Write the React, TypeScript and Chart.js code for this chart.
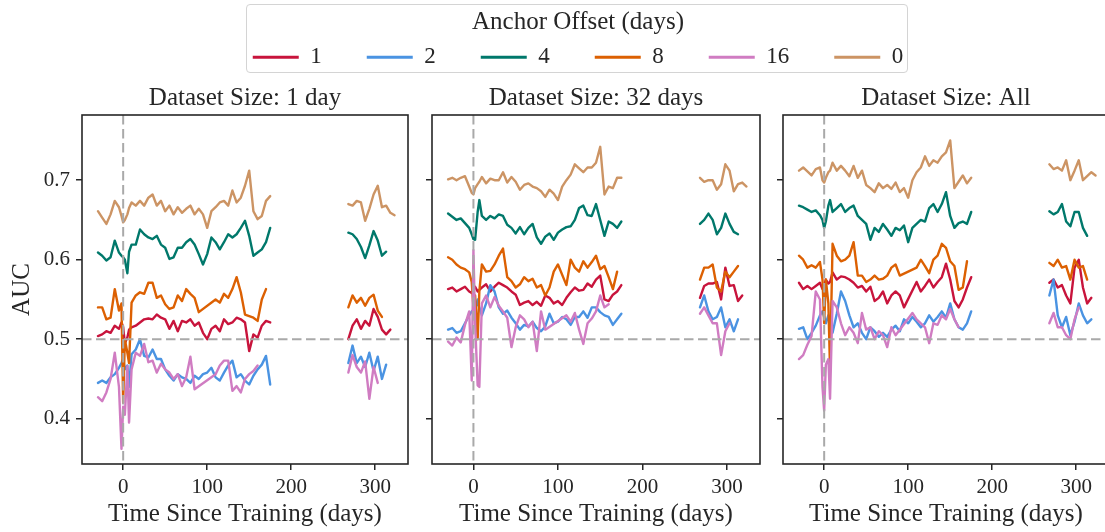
import { useEffect, useRef } from 'react';
import { Chart, registerables } from 'chart.js';

Chart.register(...registerables);

const FONT = '"Liberation Serif", "Times New Roman", serif';
const INK = '#262626';

// Legend entries (anchor offset in days) and their colours
const offsetLabels = ['1', '2', '4', '8', '16', '0'];
const offsetColors = ['#c8143c', '#4a93e2', '#00786b', '#dc6002', '#d07cc2', '#cc9464'];

const panelTitles = ['Dataset Size: 1 day', 'Dataset Size: 32 days', 'Dataset Size: All'];
const xTickValues = [0, 100, 200, 300];
const yTickValues = [0.4, 0.5, 0.6, 0.7];

// Days since training for every sample (two evaluation windows)
const days = [
  -30, -25, -20, -15, -10, -5, -2, 0, 2, 5, 7, 10, 15, 20, 25, 30, 35, 40, 45, 50, 55, 60, 65, 70, 75,
  80, 85, 90, 95, 100, 105, 110, 115, 120, 125, 130, 135, 140, 145, 150, 155, 160, 165, 170, 175,
  268, 273, 278, 283, 288, 293, 298, 303, 308, 313, 318, 323,
];

// ---- Dataset size: 1 day ----
const oneDay1 = [
  0.504, 0.506, 0.51, 0.508, 0.517, 0.513, 0.521, 0.515, 0.495, 0.502, 0.512, 0.515, 0.517, 0.521, 0.525,
  0.526, 0.525, 0.531, 0.527, 0.525, 0.513, 0.523, 0.51, 0.523, 0.521, 0.525, 0.517, 0.521, 0.508, 0.5,
  0.513, 0.517, 0.51, 0.525, 0.519, 0.521, 0.527, 0.525, 0.521, 0.485, 0.506, 0.502, 0.517, 0.523, 0.521,
  0.5, 0.517, 0.525, 0.513, 0.523, 0.517, 0.538, 0.528, 0.512, 0.506, 0.512, null,
];
const oneDay2 = [
  0.445, 0.448, 0.445, 0.452, 0.456, 0.464, 0.47, 0.475, 0.462, 0.467, 0.44, 0.481, 0.487, 0.5, 0.479,
  0.477, 0.487, 0.475, 0.475, 0.462, 0.454, 0.448, 0.456, 0.452, 0.45, 0.445, 0.454, 0.45, 0.456, 0.458,
  0.464, 0.452, 0.448, 0.458, 0.467, 0.473, 0.452, 0.456, 0.448, 0.443, 0.454, 0.462, 0.468, 0.479, 0.443,
  0.47, 0.492, 0.47, 0.478, 0.465, 0.483, 0.46, 0.478, 0.45, 0.468, null, null,
];
const oneDay4 = [
  0.609, 0.605, 0.599, 0.603, 0.624, 0.609, 0.605, 0.603, 0.6, 0.583, 0.61, 0.619, 0.619, 0.638, 0.632,
  0.628, 0.626, 0.63, 0.619, 0.615, 0.601, 0.603, 0.615, 0.615, 0.622, 0.626, 0.619, 0.607, 0.594, 0.607,
  0.628, 0.622, 0.613, 0.622, 0.632, 0.628, 0.632, 0.64, 0.649, 0.63, 0.605, 0.609, 0.613, 0.622, 0.64,
  0.634, 0.632, 0.626, 0.616, 0.602, 0.618, 0.636, 0.624, 0.605, 0.61, null, null,
];
const oneDay8 = [
  0.54, 0.54, 0.525, 0.527, 0.563, 0.536, 0.545, 0.42, 0.5, 0.483, 0.47, 0.546, 0.555, 0.559, 0.557,
  0.571, 0.571, 0.552, 0.555, 0.544, 0.538, 0.54, 0.555, 0.548, 0.563, 0.557, 0.552, 0.534, null, null,
  null, 0.55, 0.546, 0.557, 0.552, 0.563, 0.578, 0.559, 0.531, 0.529, 0.527, 0.523, 0.55, 0.563, null,
  0.54, 0.555, 0.546, 0.552, 0.542, 0.552, 0.556, 0.536, 0.528, null, null, null,
];
const oneDay16 = [
  0.427, 0.422, 0.433, 0.45, 0.483, 0.44, 0.362, 0.415, 0.405, 0.466, 0.395, 0.462, 0.483, 0.479, 0.494,
  0.471, 0.473, 0.458, 0.469, 0.462, 0.458, 0.45, 0.456, 0.441, 0.452, 0.478, 0.437, null, null, null,
  null, 0.456, 0.467, 0.473, 0.473, 0.435, 0.441, 0.433, 0.45, 0.456, 0.46, 0.467, null, null, null,
  0.458, 0.48, 0.465, 0.458, 0.472, 0.425, 0.465, 0.445, null, null, null, null,
];
const oneDay0 = [
  0.661, 0.653, 0.645, 0.657, 0.674, 0.666, 0.655, 0.647, 0.65, 0.657, 0.665, 0.672, 0.668, 0.674, 0.668,
  0.678, 0.682, 0.668, 0.674, 0.661, 0.668, 0.657, 0.666, 0.659, 0.664, 0.668, 0.657, 0.664, 0.657, 0.64,
  0.661, 0.666, 0.672, 0.674, 0.668, 0.687, 0.672, 0.678, 0.693, 0.712, 0.661, 0.651, 0.655, 0.674, 0.68,
  0.67, 0.668, 0.674, 0.672, 0.649, 0.664, 0.682, 0.693, 0.666, 0.668, 0.659, 0.656,
];

// ---- Dataset size: 32 days ----
const thirtyTwoDays1 = [
  0.563, 0.565, 0.56, 0.563, 0.566, 0.56, 0.558, 0.565, 0.566, 0.56, 0.562, 0.565, 0.569, 0.56, 0.566,
  0.571, 0.568, 0.565, 0.56, 0.556, 0.543, 0.546, 0.548, 0.543, 0.547, 0.542, 0.555, 0.552, 0.545, 0.548,
  0.543, 0.552, 0.559, 0.565, 0.561, 0.562, 0.57, 0.566, 0.575, 0.58, 0.55, 0.548, 0.556, 0.56, 0.568,
  0.552, 0.567, 0.57, 0.57, 0.572, 0.55, 0.59, 0.567, 0.568, 0.548, 0.555, null,
];
const thirtyTwoDays2 = [
  0.512, 0.514, 0.508, 0.51, 0.52, 0.53, 0.535, 0.537, 0.535, 0.55, 0.54, 0.53, 0.545, 0.568, 0.56,
  0.54, 0.532, 0.536, 0.527, 0.52, 0.512, 0.518, 0.516, 0.522, 0.514, 0.51, 0.516, 0.532, 0.52, 0.522,
  0.528, 0.525, 0.518, 0.528, 0.528, 0.535, 0.527, 0.54, 0.54, 0.534, 0.53, 0.528, 0.518, 0.525, 0.532,
  0.54, 0.555, 0.535, 0.525, 0.528, 0.54, 0.515, 0.525, 0.51, 0.525, null, null,
];
const thirtyTwoDays4 = [
  0.658, 0.654, 0.65, 0.652, 0.646, 0.64, 0.632, 0.626, 0.625, 0.66, 0.675, 0.655, 0.65, 0.655, 0.652,
  0.657, 0.655, 0.644, 0.64, 0.633, 0.641, 0.632, 0.64, 0.645, 0.628, 0.62, 0.629, 0.633, 0.625, 0.634,
  0.638, 0.641, 0.642, 0.65, 0.665, 0.668, 0.656, 0.655, 0.67, 0.65, 0.63, 0.648, 0.645, 0.64, 0.648,
  0.645, 0.65, 0.658, 0.65, 0.632, 0.64, 0.658, 0.645, 0.635, 0.632, null, null,
];
const thirtyTwoDays8 = [
  0.603, 0.6, 0.594, 0.59, 0.588, 0.584, 0.572, 0.54, 0.555, 0.5, 0.56, 0.594, 0.585, 0.586, 0.594,
  0.605, 0.614, 0.578, 0.573, 0.565, 0.569, 0.578, 0.573, 0.576, 0.565, 0.568, 0.555, 0.565, 0.585, 0.594,
  null, 0.568, 0.6, 0.59, 0.585, 0.598, 0.59, 0.597, 0.605, 0.588, 0.592, 0.578, 0.563, 0.585, null,
  0.575, 0.59, 0.59, 0.594, 0.565, 0.56, 0.585, 0.578, 0.585, 0.592, null, null,
];
const thirtyTwoDays16 = [
  0.497, 0.492, 0.502, 0.496, 0.518, 0.535, 0.448, 0.612, 0.52, 0.442, 0.44, 0.545, 0.555, 0.54, 0.553,
  0.542, 0.535, 0.527, 0.49, 0.515, 0.53, 0.525, 0.515, 0.522, 0.485, 0.535, 0.512, null, null, null,
  null, 0.53, 0.522, 0.533, 0.512, 0.494, 0.52, 0.526, 0.535, 0.555, 0.54, 0.544, null, null, null,
  0.532, 0.54, 0.53, 0.52, 0.52, 0.48, 0.51, 0.52, null, null, null, null,
];
const thirtyTwoDays0 = [
  0.701, 0.703, 0.7, 0.703, 0.705, 0.692, 0.684, 0.682, 0.69, 0.695, 0.698, 0.704, 0.696, 0.702, 0.7,
  0.7, 0.71, 0.697, 0.704, 0.698, 0.688, 0.694, 0.696, 0.692, 0.69, 0.686, 0.679, 0.688, 0.683, 0.675,
  0.692, 0.7, 0.707, 0.72, 0.715, 0.71, 0.716, 0.716, 0.722, 0.742, 0.682, 0.692, 0.69, 0.703, 0.703,
  0.703, 0.698, 0.7, 0.7, 0.688, 0.695, 0.72, 0.712, 0.686, 0.695, 0.697, 0.692,
];

// ---- Dataset size: All ----
const allData1 = [
  0.571, 0.563, 0.567, 0.563, 0.567, 0.571, 0.563, 0.567, 0.575, 0.57, 0.572, 0.584, 0.575, 0.579, 0.578,
  0.575, 0.571, 0.565, 0.567, 0.56, 0.566, 0.548, 0.552, 0.56, 0.545, 0.555, 0.56, 0.555, 0.54, null,
  null, 0.572, 0.56, 0.567, 0.575, 0.565, 0.572, 0.578, 0.595, 0.575, 0.548, 0.54, 0.55, 0.565, 0.578,
  0.571, 0.575, 0.565, 0.568, 0.555, 0.545, 0.59, 0.6, 0.565, 0.545, 0.552, null,
];
const allData2 = [
  0.513, 0.515, 0.5, 0.508, 0.517, 0.53, 0.535, 0.528, 0.52, 0.53, 0.52, 0.508, 0.532, 0.56, 0.548,
  0.53, 0.515, 0.52, 0.508, 0.5, 0.515, 0.51, 0.503, 0.508, 0.503, 0.512, 0.517, 0.51, 0.525, 0.52,
  0.528, 0.522, 0.515, 0.52, 0.53, 0.522, 0.528, 0.535, 0.527, 0.545, 0.525, 0.515, 0.512, 0.52, 0.535,
  0.555, 0.575, 0.53, 0.515, 0.528, 0.505, 0.522, 0.545, 0.53, 0.52, 0.525, null,
];
const allData4 = [
  0.668, 0.666, 0.663, 0.66, 0.662, 0.656, 0.65, 0.64, 0.648, 0.668, 0.675, 0.66, 0.665, 0.67, 0.66,
  0.665, 0.668, 0.655, 0.65, 0.645, 0.625, 0.64, 0.635, 0.645, 0.638, 0.63, 0.64, 0.637, 0.643, 0.622,
  0.64, 0.645, 0.65, 0.648, 0.665, 0.67, 0.66, 0.67, 0.685, 0.655, 0.64, 0.646, 0.648, 0.645, 0.66,
  0.661, 0.657, 0.66, 0.67, 0.648, 0.642, 0.66, 0.66, 0.64, 0.63, null, null,
];
const allData8 = [
  0.605, 0.6, 0.59, 0.593, 0.59, 0.597, 0.575, 0.52, 0.575, 0.545, 0.462, 0.62, 0.605, 0.598, 0.6,
  0.605, 0.622, 0.58, 0.58, 0.572, 0.575, 0.58, 0.575, 0.576, 0.58, 0.59, 0.594, 0.58, null, null,
  null, 0.59, 0.6, 0.592, 0.583, 0.6, 0.605, 0.62, 0.615, 0.598, 0.592, 0.562, 0.565, 0.598, null,
  0.596, 0.592, 0.6, 0.59, 0.592, 0.575, 0.6, 0.59, 0.592, 0.575, null, null,
];
const allData16 = [
  0.475, 0.48, 0.493, 0.504, 0.56, 0.55, 0.44, 0.41, 0.468, 0.475, 0.425, 0.548, 0.54, 0.52, 0.505,
  0.515, 0.508, 0.495, 0.533, 0.512, 0.515, 0.5, 0.51, 0.505, 0.49, 0.515, 0.505, null, null, null,
  0.533, 0.525, 0.52, 0.515, 0.495, 0.52, 0.518, 0.53, 0.525, 0.538, 0.525, 0.515, null, null, null,
  0.52, 0.533, 0.515, 0.515, 0.505, 0.5, 0.525, 0.54, null, null, null, null,
];
const allData0 = [
  0.712, 0.716, 0.711, 0.706, 0.714, 0.716, 0.7, 0.697, 0.703, 0.71, 0.712, 0.722, 0.712, 0.718, 0.712,
  0.705, 0.718, 0.703, 0.712, 0.694, 0.69, 0.685, 0.696, 0.69, 0.694, 0.689, 0.697, 0.685, 0.69, 0.678,
  0.7, 0.71, 0.716, 0.73, 0.718, 0.725, 0.722, 0.73, 0.735, 0.75, 0.69, 0.698, 0.706, 0.696, 0.703,
  0.72, 0.714, 0.716, 0.712, 0.725, 0.7, 0.712, 0.725, 0.7, 0.705, 0.71, 0.706,
];

const panelSeries = [
  [oneDay1, oneDay2, oneDay4, oneDay8, oneDay16, oneDay0],
  [thirtyTwoDays1, thirtyTwoDays2, thirtyTwoDays4, thirtyTwoDays8, thirtyTwoDays16, thirtyTwoDays0],
  [allData1, allData2, allData4, allData8, allData16, allData0],
];

const X_MIN = -49;
const X_MAX = 339;
const Y_MIN = 0.343;
const Y_MAX = 0.782;

// Missing days inside a window are bridged; the long pause between windows breaks the line.
function toPoints(values: (number | null)[]) {
  const pts: { x: number; y: number | null }[] = [];
  let prev: number | null = null;
  days.forEach((d, i) => {
    const v = values[i];
    if (v === null || v === undefined) return;
    if (prev !== null && d - prev > 60) pts.push({ x: (prev + d) / 2, y: null });
    pts.push({ x: d, y: v });
    prev = d;
  });
  return pts;
}

// Axes box plus the dashed guides at AUC 0.5 and day 0
const framePlugin = {
  id: 'frameAndGuides',
  afterDatasetsDraw(chart: any) {
    const { ctx, chartArea, scales } = chart;
    const { left, top, right, bottom } = chartArea;
    ctx.save();
    ctx.strokeStyle = '#a9a9a9';
    ctx.lineWidth = 2;
    ctx.setLineDash([9.5, 4.5]);
    const yMid = scales.y.getPixelForValue(0.5);
    ctx.beginPath();
    ctx.moveTo(left, yMid);
    ctx.lineTo(right, yMid);
    ctx.stroke();
    const xZero = scales.x.getPixelForValue(0);
    ctx.beginPath();
    ctx.moveTo(xZero, top);
    ctx.lineTo(xZero, bottom);
    ctx.stroke();
    ctx.setLineDash([]);
    ctx.strokeStyle = INK;
    ctx.lineWidth = 1.6;
    ctx.strokeRect(left, top, right - left, bottom - top);
    ctx.restore();
  },
};

const PANEL_TOP = 78;
const PANEL_H = 532 - PANEL_TOP;

type PanelProps = { index: number; left: number; width: number; axisWidth: number };

function Panel({ index, left, width, axisWidth }: PanelProps) {
  const ref = useRef<HTMLCanvasElement>(null);
  useEffect(() => {
    const showY = index === 0;
    const chart = new Chart(ref.current as HTMLCanvasElement, {
      type: 'line',
      data: {
        datasets: panelSeries[index].map((vals, i) => ({
          label: offsetLabels[i],
          data: toPoints(vals),
          borderColor: offsetColors[i],
          backgroundColor: offsetColors[i],
          borderWidth: 2.4,
          pointRadius: 0,
          tension: 0,
          spanGaps: false,
          borderJoinStyle: 'round',
          borderCapStyle: 'round',
          order: offsetLabels.length - i,
        })),
      },
      options: {
        animation: false,
        responsive: false,
        layout: { padding: { left: 0, right: 12, top: 0, bottom: 0 } },
        plugins: {
          legend: { display: false },
          tooltip: { enabled: false },
          title: {
            display: true,
            text: panelTitles[index],
            fullSize: false,
            color: INK,
            font: { family: FONT, size: 25, weight: 'normal' },
            padding: { top: 5, bottom: 2 },
          },
        },
        scales: {
          x: {
            type: 'linear',
            min: X_MIN,
            max: X_MAX,
            afterBuildTicks: (s: any) => {
              s.ticks = xTickValues.map((v) => ({ value: v }));
            },
            afterFit: (s: any) => {
              s.height = 68;
            },
            ticks: {
              color: INK,
              padding: 4.4,
              maxRotation: 0,
              font: { family: FONT, size: 21 },
              callback: (v: any) => String(v),
            },
            grid: { display: true, drawOnChartArea: false, drawTicks: true, tickLength: 6, color: INK, lineWidth: 1.5 },
            border: { display: false },
            title: {
              display: true,
              text: 'Time Since Training (days)',
              color: INK,
              font: { family: FONT, size: 25 },
              padding: { top: 0, bottom: 3 },
            },
          },
          y: {
            type: 'linear',
            min: Y_MIN,
            max: Y_MAX,
            afterBuildTicks: (s: any) => {
              s.ticks = yTickValues.map((v) => ({ value: v }));
            },
            afterFit: (s: any) => {
              s.width = axisWidth;
            },
            ticks: {
              display: showY,
              color: INK,
              padding: 6,
              font: { family: FONT, size: 21 },
              callback: (v: any) => Number(v).toFixed(1),
            },
            grid: { display: true, drawOnChartArea: false, drawTicks: true, tickLength: 6, color: INK, lineWidth: 1.5 },
            border: { display: false },
            title: {
              display: showY,
              text: 'AUC',
              color: INK,
              font: { family: FONT, size: 25 },
              padding: { top: 7, bottom: 0 },
            },
          },
        },
      } as any,
      plugins: [framePlugin],
    });
    return () => chart.destroy();
  }, [index, axisWidth]);
  return (
    <canvas
      ref={ref}
      width={width}
      height={PANEL_H}
      style={{ position: 'absolute', left, top: PANEL_TOP, width, height: PANEL_H }}
    />
  );
}

const LEGEND_LEFT = 128;
const LEGEND_W = 900;
const LEGEND_H = 80;

function Legend() {
  const ref = useRef<HTMLCanvasElement>(null);
  useEffect(() => {
    const chart = new Chart(ref.current as HTMLCanvasElement, {
      type: 'line',
      data: {
        datasets: offsetLabels.map((label, i) => ({
          label,
          data: [],
          borderColor: offsetColors[i],
          backgroundColor: offsetColors[i],
        })),
      },
      options: {
        animation: false,
        responsive: false,
        layout: { padding: 0 },
        scales: { x: { display: false }, y: { display: false } },
        plugins: {
          tooltip: { enabled: false },
          legend: {
            display: true,
            position: 'top',
            align: 'center',
            maxHeight: LEGEND_H,
            title: {
              display: true,
              text: 'Anchor Offset (days)',
              color: INK,
              font: { family: FONT, size: 25 },
              padding: { top: 10, bottom: -39.3 },
            },
            labels: {
              boxWidth: 46,
              boxHeight: 3,
              padding: 45,
              color: INK,
              font: { family: FONT, size: 23 },
              generateLabels: (c: any) =>
                c.data.datasets.map((ds: any, i: number) => ({
                  text: ds.label,
                  fillStyle: ds.borderColor,
                  strokeStyle: ds.borderColor,
                  fontColor: INK,
                  lineWidth: 0,
                  hidden: false,
                  datasetIndex: i,
                })),
            },
          },
        },
      } as any,
    });
    return () => chart.destroy();
  }, []);
  return (
    <canvas
      ref={ref}
      width={LEGEND_W}
      height={LEGEND_H}
      style={{ position: 'absolute', left: LEGEND_LEFT, top: 0, width: LEGEND_W, height: LEGEND_H }}
    />
  );
}

export default function App() {
  return (
    <div
      style={{
        position: 'fixed',
        left: 0,
        top: 0,
        width: 1105,
        height: 532,
        overflow: 'hidden',
        background: '#ffffff',
      }}
    >
      <div
        style={{
          position: 'absolute',
          left: 246,
          top: 4,
          width: 662,
          height: 69,
          boxSizing: 'border-box',
          border: '1.5px solid #d4d4d4',
          borderRadius: 4,
          background: '#ffffff',
        }}
      />
      <Legend />
      <Panel index={0} left={0} width={420} axisWidth={82} />
      <Panel index={1} left={420} width={352} axisWidth={12} />
      <Panel index={2} left={772} width={349} axisWidth={11} />
    </div>
  );
}
